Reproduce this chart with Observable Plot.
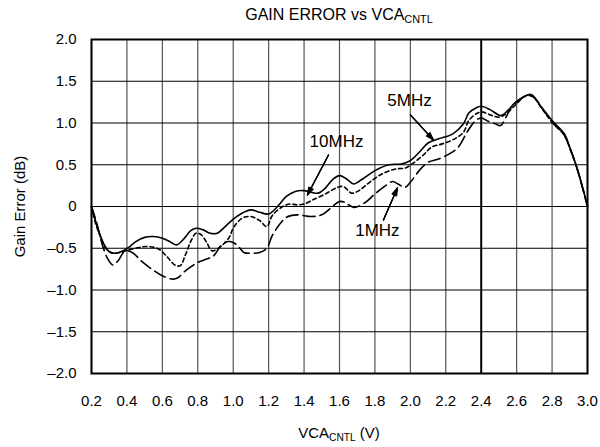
<!DOCTYPE html>
<html><head><meta charset="utf-8">
<script src="https://cdn.jsdelivr.net/npm/d3@7"></script>
<script src="https://cdn.jsdelivr.net/npm/@observablehq/plot@0.6"></script>
<style>
body{margin:0;background:#fff;font-family:"Liberation Sans",Arial,sans-serif;}
#wrap{width:600px;height:447px;position:relative;overflow:hidden;background:#fff}
.title{position:absolute;left:91px;width:496px;top:0;height:30px;line-height:30px;text-align:center;font-size:16px;color:#000}
.xtitle{position:absolute;left:91px;width:496px;top:420px;height:26px;line-height:26px;text-align:center;font-size:15px;color:#000}
sub{font-size:0.68em;vertical-align:-0.3em;line-height:0}
#chart{position:absolute;left:0;top:30px}
</style></head>
<body>
<div id="wrap">
<div class="title">GAIN ERROR vs VCA<sub>CNTL</sub></div>
<div id="chart"></div>
<div class="xtitle">VCA<sub>CNTL</sub> (V)</div>
</div>
<script>
// Tick values
const xTicks = [0.2,0.4,0.6,0.8,1.0,1.2,1.4,1.6,1.8,2.0,2.2,2.4,2.6,2.8,3.0];
const yTicks = [2.0,1.5,1.0,0.5,0,-0.5,-1.0,-1.5,-2.0];

// 10 MHz (solid)
const vca10 = [0.2,0.22,0.24,0.27,0.3,0.33,0.37,0.41,0.45,0.5,0.55,0.6,0.65,0.68,0.72,0.76,0.79,0.83,0.87,0.91,0.95,1.0,1.05,1.1,1.15,1.2,1.25,1.3,1.35,1.4,1.44,1.48,1.52,1.56,1.6,1.64,1.68,1.73,1.8,1.88,1.95,2.0,2.05,2.1,2.16,2.24,2.3,2.33,2.37,2.4,2.45,2.51,2.55,2.59,2.63,2.67,2.69,2.74,2.8,2.87,2.9,2.94,2.97,3.0];
const gain10 = [0,-0.15,-0.29,-0.45,-0.54,-0.56,-0.54,-0.49,-0.42,-0.37,-0.36,-0.38,-0.43,-0.46,-0.39,-0.29,-0.26,-0.28,-0.32,-0.32,-0.25,-0.15,-0.08,-0.04,-0.07,-0.09,0.0,0.12,0.18,0.19,0.17,0.16,0.22,0.32,0.37,0.33,0.27,0.33,0.43,0.5,0.51,0.55,0.65,0.76,0.81,0.87,0.99,1.12,1.18,1.2,1.16,1.09,1.15,1.24,1.30,1.34,1.33,1.19,1.03,0.87,0.71,0.47,0.25,0.0];

// 5 MHz (short dash)
const vca5 = [0.2,0.22,0.25,0.28,0.32,0.36,0.41,0.47,0.52,0.58,0.63,0.67,0.7,0.73,0.76,0.79,0.82,0.85,0.88,0.91,0.95,0.98,1.0,1.05,1.1,1.15,1.19,1.22,1.28,1.32,1.36,1.4,1.45,1.52,1.58,1.62,1.67,1.71,1.77,1.84,1.92,1.97,2.01,2.07,2.12,2.18,2.25,2.3,2.33,2.38,2.41,2.46,2.5,2.54,2.59,2.64,2.68,2.74,2.8,2.87,2.9,2.94,2.97,3.0];
const gain5 = [0,-0.18,-0.36,-0.5,-0.56,-0.55,-0.52,-0.49,-0.48,-0.51,-0.61,-0.7,-0.71,-0.58,-0.42,-0.32,-0.34,-0.43,-0.53,-0.51,-0.44,-0.36,-0.26,-0.14,-0.12,-0.17,-0.24,-0.11,0.0,0.03,0.02,0.03,0.08,0.15,0.22,0.24,0.16,0.19,0.29,0.39,0.45,0.46,0.51,0.61,0.71,0.75,0.81,0.89,1.03,1.12,1.13,1.09,1.07,1.11,1.21,1.31,1.34,1.18,1.01,0.85,0.7,0.46,0.24,0];

// 1 MHz (long dash)
const vca1 = [0.2,0.23,0.26,0.29,0.32,0.35,0.39,0.43,0.48,0.54,0.6,0.66,0.69,0.73,0.77,0.8,0.85,0.89,0.93,0.97,1.0,1.03,1.06,1.1,1.15,1.19,1.22,1.26,1.3,1.36,1.44,1.5,1.55,1.6,1.63,1.68,1.74,1.8,1.86,1.9,1.93,1.97,2.0,2.05,2.1,2.16,2.22,2.27,2.32,2.36,2.4,2.44,2.48,2.51,2.54,2.57,2.61,2.66,2.7,2.75,2.8,2.87,2.9,2.94,2.97,3.0];
const gain1 = [0,-0.2,-0.45,-0.62,-0.7,-0.65,-0.53,-0.55,-0.65,-0.75,-0.83,-0.87,-0.85,-0.77,-0.71,-0.67,-0.63,-0.59,-0.47,-0.42,-0.43,-0.48,-0.55,-0.56,-0.55,-0.5,-0.35,-0.22,-0.13,-0.1,-0.12,-0.1,-0.02,0.06,0.05,-0.01,0.04,0.15,0.25,0.3,0.27,0.23,0.29,0.43,0.53,0.57,0.63,0.71,0.89,1.01,1.06,1.02,0.99,0.97,1.07,1.19,1.27,1.33,1.3,1.16,1.01,0.85,0.7,0.46,0.24,0];

// Curve labels and their arrows (data coordinates)
const labelNames = ["10MHz","5MHz","1MHz"];
const labelX = [1.583,1.995,1.814];
const labelY = [0.773,1.265,-0.282];
const arrowX1 = [1.538,2.0,1.848];
const arrowY1 = [0.617,1.097,-0.162];
const arrowX2 = [1.419,2.13,1.927];
const arrowY2 = [0.138,0.797,0.222];

const toRows = (xs, ys) => xs.map((x, i) => ({x, y: ys[i]}));
const s10 = toRows(vca10, gain10);
const s5 = toRows(vca5, gain5);
const s1 = toRows(vca1, gain1);
const labels = labelNames.map((t, i) => ({t, x: labelX[i], y: labelY[i]}));
const arrows = labelNames.map((t, i) => ({x1: arrowX1[i], y1: arrowY1[i], x2: arrowX2[i], y2: arrowY2[i]}));

const fmtY = d => d === 0 ? "0" : (d < 0 ? "\u2013" : "") + Math.abs(d).toFixed(1);
const arrowOpts = (angle) => ({x1: "x1", y1: "y1", x2: "x2", y2: "y2", stroke: "black", strokeWidth: 1.2, headLength: 10, headAngle: angle});

const chart = Plot.plot({
  width: 600,
  height: 390,
  marginTop: 9,
  marginBottom: 47,
  marginLeft: 91,
  marginRight: 13,
  x: {domain: [0.2, 3.0]},
  y: {domain: [-2, 2]},
  style: {fontFamily: "'Liberation Sans', Arial, sans-serif", fontSize: "15px", color: "black", background: "white"},
  marks: [
    Plot.ruleX(xTicks.filter(d => d !== 2.4), {stroke: "#555", strokeWidth: 1.2}),
    Plot.ruleX([2.4], {stroke: "black", strokeWidth: 2}),
    Plot.ruleY(yTicks, {stroke: "black", strokeWidth: 1}),
    Plot.axisX(xTicks, {tickSize: 0, tickPadding: 22, tickFormat: d => d.toFixed(1), label: null}),
    Plot.axisY(yTicks, {tickSize: 0, tickPadding: 15, tickFormat: fmtY, label: "Gain Error (dB)", labelAnchor: "center", labelOffset: 77, labelArrow: "none"}),
    Plot.line(s1, {x: "x", y: "y", stroke: "black", strokeWidth: 1.6, strokeDasharray: "12,5", curve: "catmull-rom"}),
    Plot.line(s5, {x: "x", y: "y", stroke: "black", strokeWidth: 1.6, strokeDasharray: "4,3", curve: "catmull-rom"}),
    Plot.line(s10, {x: "x", y: "y", stroke: "black", strokeWidth: 1.6, curve: "catmull-rom"}),
    Plot.arrow(arrows, arrowOpts(36)),
    Plot.arrow(arrows, arrowOpts(24)),
    Plot.arrow(arrows, arrowOpts(12)),
    Plot.text(labels, {x: "x", y: "y", text: "t", fontSize: 17, fill: "black"}),
    Plot.frame({stroke: "black", strokeWidth: 2})
  ]
});
document.getElementById("chart").appendChild(chart);
</script>
</body></html>
